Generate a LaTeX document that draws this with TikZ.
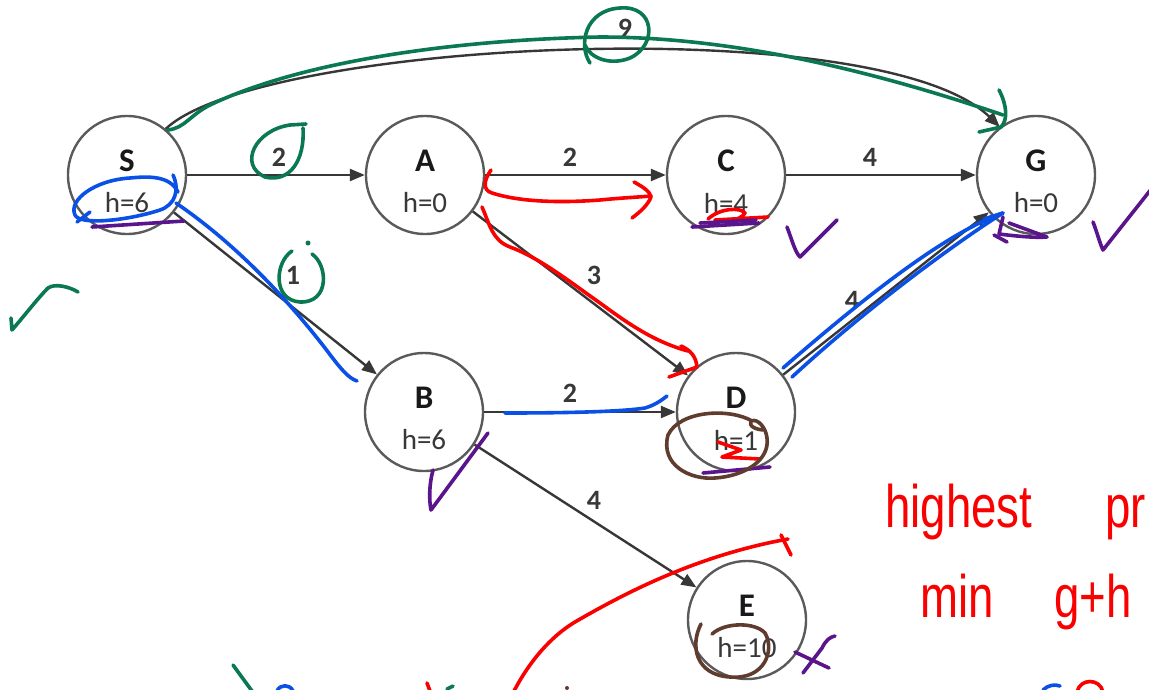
\documentclass[tikz,border=0pt]{standalone}
\usepackage{fontspec}
\newfontfamily\graphfont{Carlito}
\newfontfamily\handfont{Liberation Sans}
\usetikzlibrary{arrows.meta}
\definecolor{inkgreen}{RGB}{10,120,80}
\definecolor{inkblue}{RGB}{10,80,230}
\definecolor{inkred}{RGB}{250,0,0}
\definecolor{inkpurple}{RGB}{90,20,140}
\definecolor{inkbrown}{RGB}{95,60,45}
\definecolor{edgegray}{RGB}{55,55,55}
\definecolor{ringgray}{RGB}{90,90,90}
\begin{document}
\begin{tikzpicture}[x=1pt,y=-1pt,
  state/.style={circle,draw=ringgray,line width=2.4pt,minimum size=118pt,inner sep=0pt,fill=white},
  nm/.style={font=\graphfont\bfseries\fontsize{33}{33}\selectfont,text=black!90,inner sep=0pt},
  hv/.style={font=\graphfont\fontsize{29}{29}\selectfont,text=black!78,inner sep=0pt},
  lbl/.style={font=\graphfont\bfseries\fontsize{28}{28}\selectfont,text=black!78,inner sep=0pt},
  edge/.style={draw=edgegray,line width=2.4pt,-{Triangle[length=15pt,width=12pt]}},
  ink/.style={line width=3.6pt,line cap=round,line join=round},
  hand/.style={font=\handfont\fontsize{48}{48}\selectfont,text=inkred,inner sep=0pt,anchor=base west}
]
\fill[white] (0,0) rectangle (1149,689);
\useasboundingbox (0,0) rectangle (1149,689);

% search graph: states with heuristic values
\foreach \n/\x/\y/\h in {S/127/175/6, A/425/175/0, C/726/175/4, G/1036/175/0,
                          B/424/412/6, D/736/412/1, E/747/620/10}{
  \node[state] (\n) at (\x,\y) {};
  \node[nm] (\n-t) at (\x,{\y-14}) {\n};
  \node[hv] (\n-h) at (\x,{\y+28}) {h=\h};
}

% weighted edges
\draw[edge] (S) -- (A) node[lbl] (wSA) at (279,157) {2};
\draw[edge] (A) -- (C) node[lbl] (wAC) at (570,157) {2};
\draw[edge] (C) -- (G) node[lbl] (wCG) at (870,157) {4};
\draw[edge] (S) -- (B) node[lbl] (wSB) at (293,275) {1};
\draw[edge] (A) -- (D) node[lbl] (wAD) at (594,275) {3};
\draw[edge] (B) -- (D) node[lbl] (wBD) at (570,393) {2};
\draw[edge] (D) -- (G) node[lbl] (wDG) at (852,300) {4};
\draw[edge] (B) -- (E) node[lbl] (wBE) at (594,500) {4};
\draw[edge] (S.50) .. controls (260,40) and (880,10) .. (G.127)
  node[lbl] (wSG) at (625,28) {9};

% ---- pen annotations ----
% green
\begin{scope}[ink,draw=inkgreen]
  \draw (168,130) .. controls (185,128) and (190,115) .. (210,105)
        .. controls (300,62) and (450,40) .. (600,37)
        .. controls (750,37) and (900,80) .. (1003,115);
  \draw (999,90) .. controls (1007,105) and (1008,120) .. (1001,127) -- (979,132);
  \draw (590,63) .. controls (578,45) and (585,10) .. (620,8)
        .. controls (655,5) and (658,45) .. (630,58)
        .. controls (610,66) and (590,58) .. (585,45);
  \draw (306,124) -- (290,125) .. controls (255,130) and (238,165) .. (265,177)
        .. controls (290,183) and (305,160) .. (303,128);
  \draw (292,251) .. controls (275,262) and (272,300) .. (300,302)
        .. controls (330,303) and (328,265) .. (312,254);
  \fill[inkgreen] (308,243) circle (2.5pt);
  \draw (11,318) -- (12,330) .. controls (25,315) and (38,298) .. (48,288)
        .. controls (55,283) and (70,287) .. (78,292);
  \draw (233,665) -- (252,691);
  \draw (447,689) -- (453,686);
\end{scope}

% blue
\begin{scope}[ink,draw=inkblue]
  \draw (173,175) .. controls (180,190) and (175,205) .. (160,210)
        .. controls (130,220) and (80,226) .. (75,215)
        .. controls (68,200) and (95,180) .. (130,178)
        .. controls (150,176) and (170,176) .. (178,192);
  \draw (77,222) -- (90,212);
  \draw (176,203) .. controls (230,240) and (280,290) .. (325,348)
        .. controls (340,368) and (348,378) .. (357,381);
  \draw (505,413) .. controls (560,413) and (620,412) .. (645,408)
        .. controls (655,405) and (662,400) .. (667,396);
  \draw (783,368) .. controls (850,310) and (940,235) .. (1003,213)
        .. controls (960,240) and (870,305) .. (792,377);
  \draw (984,219) -- (1003,213);
  \draw (277,691) .. controls (280,684) and (290,684) .. (293,691);
  \draw (1043,690) .. controls (1048,685) and (1055,684) .. (1060,686);
\end{scope}

% red
\begin{scope}[ink,draw=inkred]
  \draw (491,170) .. controls (484,180) and (482,190) .. (492,193)
        .. controls (520,202) and (560,203) .. (600,200)
        .. controls (620,198) and (640,197) .. (651,196);
  \draw (634,182) .. controls (645,188) and (650,192) .. (651,197)
        .. controls (648,205) and (640,212) .. (632,218);
  \draw (482,207) .. controls (490,225) and (492,240) .. (510,247)
        .. controls (540,258) and (570,282) .. (600,303)
        .. controls (630,325) and (655,342) .. (688,351);
  \draw (681,346) .. controls (690,350) and (696,356) .. (697,367) -- (669,377);
  \draw (708,219) .. controls (720,208) and (740,207) .. (745,213)
        .. controls (740,222) and (720,222) .. (715,220) -- (768,217);
  \draw (718,442) -- (741,450) -- (722,457) -- (760,459);
  \draw (514,691) .. controls (525,670) and (545,640) .. (575,622)
        .. controls (630,590) and (700,555) .. (788,539);
  \draw (781,535) -- (791,555);
  \draw (427,683) -- (430,691);
  \draw (1077,692) .. controls (1080,678) and (1100,678) .. (1103,692);
\end{scope}

% purple
\begin{scope}[ink,draw=inkpurple]
  \draw (92,227) -- (184,221);
  \draw (692,227) -- (759,223);
  \draw (700,223) -- (756,220);
  \draw (787,227) .. controls (792,240) and (795,252) .. (800,257) -- (837,220);
  \draw (1003,217) -- (999,234) .. controls (1015,236) and (1035,238) .. (1047,237) -- (1009,223);
  \draw (994,235) -- (1007,242);
  \draw (1093,222) .. controls (1097,232) and (1100,244) .. (1103,250) -- (1160,178);
  \draw (433,470) .. controls (429,485) and (429,500) .. (431,510) -- (488,433);
  \draw (703,473) -- (770,467);
  \draw (795,652) -- (829,668);
  \draw (835,636) .. controls (830,637) and (826,640) .. (822,648) -- (803,673);
\end{scope}

% brown
\begin{scope}[ink,draw=inkbrown]
  \draw (752,421) .. controls (730,408) and (680,410) .. (668,435)
        .. controls (660,465) and (690,480) .. (715,478)
        .. controls (745,476) and (770,460) .. (767,438)
        .. controls (766,428) and (758,418) .. (751,421)
        .. controls (748,426) and (756,430) .. (765,430);
  \draw (701,624) .. controls (690,645) and (695,675) .. (730,677)
        .. controls (765,680) and (775,650) .. (765,633)
        .. controls (755,622) and (725,622) .. (712,634);
  \fill[inkbrown] (567,688) circle (2pt);
\end{scope}

% handwritten notes
\node[hand] (note1) at (885,527) {\scalebox{0.95}[1.25]{highest}};
\node[hand] (note2) at (1105,527) {\scalebox{0.95}[1.25]{pr}};
\node[hand] (note3) at (920,617) {\scalebox{0.95}[1.25]{min\hspace{64pt}g+h}};
\end{tikzpicture}
\end{document}
